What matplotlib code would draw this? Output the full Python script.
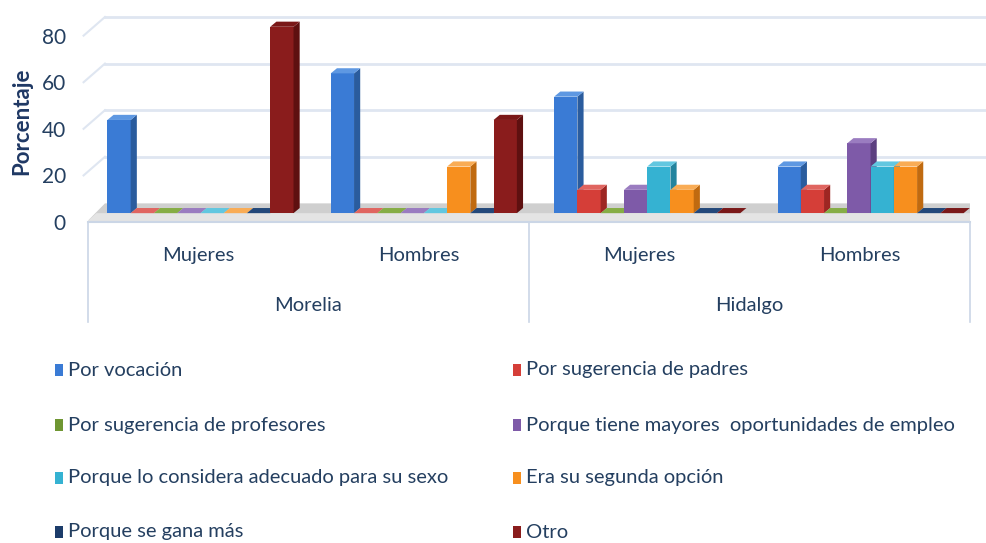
import matplotlib
matplotlib.use('Agg')
import matplotlib.pyplot as plt
import matplotlib.transforms as mtransforms
from matplotlib.patches import Polygon, Rectangle

plt.rcParams['font.family'] = ['Lato', 'DejaVu Sans']

# datos
ciudades = ['Morelia', 'Hidalgo']
sexos = ['Mujeres', 'Hombres', 'Mujeres', 'Hombres']
motivos = ['Por vocación', 'Por sugerencia de padres',
           'Por sugerencia de profesores', 'Porque tiene mayores  oportunidades de empleo',
           'Porque lo considera adecuado para su sexo', 'Era su segunda opción',
           'Porque se gana más', 'Otro']
por_vocacion   = [40, 60, 50, 20]
sug_padres     = [0, 0, 10, 10]
sug_profesores = [0, 0, 0, 0]
mayor_empleo   = [0, 0, 10, 30]
adecuado_sexo  = [0, 0, 20, 20]
segunda_opcion = [0, 20, 10, 20]
se_gana_mas    = [0, 0, 0, 0]
otro           = [80, 40, 0, 0]
yticks = [0, 20, 40, 60, 80]

series = [por_vocacion, sug_padres, sug_profesores, mayor_empleo,
          adecuado_sexo, segunda_opcion, se_gana_mas, otro]

# (frente, lado, tapa)
colores = [('#3A7BD5', '#2A5C9E', '#5E98E2'),
           ('#D53E38', '#9E2622', '#E06560'),
           ('#6F9632', '#557326', '#86AD45'),
           ('#7E5AA8', '#5C3F80', '#9A7CC0'),
           ('#35B2D2', '#23849E', '#62C7E0'),
           ('#F78F1E', '#C06A10', '#F9AC55'),
           ('#1C3C6A', '#122848', '#23487A'),
           ('#8A1C1C', '#5E1010', '#7A1818')]

texto = '#243F60'
linea = '#CBD6E6'

fig = plt.figure(figsize=(9.86, 5.43), dpi=100)
ax = fig.add_axes([88 / 986, 1 - 222 / 543, 882 / 986, 212 / 543])
ax.set_xlim(-0.5, 3.5)
ax.set_ylim(0, 91)

# profundidad (efecto 3D)
wall_dx, wall_dy = 0.077, 8.0   # pared del fondo
bar_dx, bar_dy = 0.028, 2.2     # lado/tapa de cada barra
lift = 3.8                      # las barras estan a media profundidad
ancho = 0.1055

# piso
ax.add_patch(Polygon([(-0.5, 0.6), (3.5, 0.6), (3.5 + wall_dx, wall_dy), (-0.5 + wall_dx, wall_dy)],
                     closed=True, facecolor='#CFCFCF', edgecolor='none', zorder=1))
ax.add_patch(Polygon([(-0.5, 0.6), (3.5, 0.6), (3.5 + wall_dx / 2, lift), (-0.5 + wall_dx / 2, lift)],
                     closed=True, facecolor='#E4E4E4', edgecolor='none', zorder=1))

# lineas de la pared del fondo
for v in yticks[1:]:
    ax.plot([-0.5 + wall_dx, 3.5 + wall_dx], [v + wall_dy, v + wall_dy], color='#DFE6F1', lw=2, zorder=0, clip_on=False)
    ax.plot([-0.52, -0.5 + wall_dx], [v, v + wall_dy], color='#DFE6F1', lw=1.5, zorder=0, clip_on=False)

# barras (Hidalgo un poco corrido a la derecha por la perspectiva)
z = 2
for g in range(len(sexos)):
    for i, (vals, (cf, cs, ct)) in enumerate(zip(series, colores)):
        x0 = g - 4 * ancho + i * ancho + 0.01 + 0.013 * g
        v = vals[g]
        ax.bar(x0, v, width=ancho, bottom=lift, align='edge', color=cf, edgecolor='none', zorder=z)
        x1 = x0 + ancho
        top = lift + v
        ax.add_patch(Polygon([(x1, lift), (x1 + bar_dx, lift + bar_dy), (x1 + bar_dx, top + bar_dy), (x1, top)],
                             closed=True, facecolor=cs, edgecolor='none', zorder=z))
        ax.add_patch(Polygon([(x0, top), (x0 + bar_dx, top + bar_dy), (x1 + bar_dx, top + bar_dy), (x1, top)],
                             closed=True, facecolor=ct, edgecolor='none', zorder=z))
        z += 1

# ejes
for s in ['top', 'right', 'left']:
    ax.spines[s].set_visible(False)
ax.spines['bottom'].set_color(linea)
ax.spines['bottom'].set_linewidth(1.5)
ax.set_yticks(yticks)
ax.tick_params(axis='y', length=0, pad=16, labelsize=15, labelcolor=texto)
ax.set_xticks(range(len(sexos)), sexos)
ax.tick_params(axis='x', length=0, pad=18, labelsize=14.5, labelcolor=texto)

trans = mtransforms.blended_transform_factory(ax.transData, ax.transAxes)
for xs in [-0.5, 1.5, 3.5]:
    ax.plot([xs, xs], [0, -0.47], color=linea, lw=1.2, transform=trans, clip_on=False)
for k, c in enumerate(ciudades):
    ax.text(2 * k + 0.5, -0.395, c, transform=trans, ha='center', va='center', fontsize=14.5, color=texto)

fig.text(22 / 986, 1 - 121 / 543, 'Porcentaje', rotation=90, ha='center', va='center',
         fontsize=16, fontweight='bold', color='#1F3864')

# leyenda
filas = [370, 425, 478, 532]
for i, nombre in enumerate(motivos):
    col, fila = i % 2, i // 2
    xm = [55, 513][col]
    ym = filas[fila]
    fig.add_artist(Rectangle((xm / 986, 1 - (ym + 6) / 543), 8 / 986, 12 / 543,
                             transform=fig.transFigure, facecolor=colores[i][0], edgecolor='none'))
    fig.text((xm + 13) / 986, 1 - ym / 543, nombre, ha='left', va='center', fontsize=14.5, color=texto)

fig.savefig('out.png', dpi=100)
